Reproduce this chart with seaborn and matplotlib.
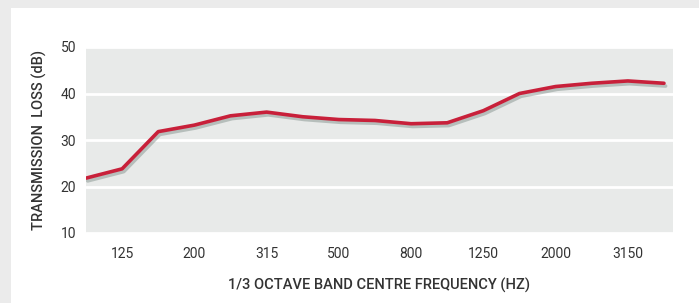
import pandas as pd
import seaborn as sns
import matplotlib.pyplot as plt
import matplotlib.patheffects as pe
from matplotlib.patches import Rectangle

# 1/3 octave band centre frequencies (Hz) and transmission loss (dB)
bands = ["100", "125", "160", "200", "250", "315", "400", "500", "630",
         "800", "1000", "1250", "1600", "2000", "2500", "3150", "4000"]
loss_db = [21.8, 23.8, 31.8, 33.2, 35.2, 36.0, 35.0, 34.4, 34.2,
           33.5, 33.7, 36.3, 40.0, 41.5, 42.2, 42.7, 42.2]
tick_labels = ["125", "200", "315", "500", "800", "1250", "2000", "3150"]
y_ticks = [10, 20, 30, 40, 50]

df = pd.DataFrame({"band": bands, "loss": loss_db})
df["pos"] = range(len(df))

sns.set_style("darkgrid", {
    "axes.facecolor": "#e8eae9",
    "grid.color": "white",
    "axes.edgecolor": "none",
})
plt.rcParams["font.family"] = ["Roboto", "DejaVu Sans"]

fig = plt.figure(figsize=(6.99, 3.03), dpi=100, facecolor="#ebebeb")
# white card on the grey background
fig.patches.append(Rectangle((11 / 699, 0), 1, 1 - 8 / 303,
                             transform=fig.transFigure, facecolor="white",
                             edgecolor="none", zorder=-10))
ax = fig.add_axes([86 / 699, 70 / 303, 587 / 699, 186 / 303])

sns.lineplot(data=df, x="pos", y="loss", color="#c8203a", linewidth=2.6, ax=ax)
ax.lines[0].set_path_effects([
    pe.SimpleLineShadow(offset=(1.2, -2.0), shadow_color="#7a8a85", alpha=0.45),
    pe.Normal(),
])
ax.lines[0].set_solid_capstyle("round")

ax.set_xlim(0, 16.25)
ax.set_ylim(10, 50)
ax.set_yticks(y_ticks)
tick_pos = [bands.index(t) for t in tick_labels]
ax.set_xticks(tick_pos)
ax.set_xticklabels(tick_labels)
ax.grid(axis="x", visible=False)
ax.grid(axis="y", linewidth=2)
ax.tick_params(axis="both", length=0, labelsize=10, labelcolor="#333333")
ax.tick_params(axis="x", pad=10)
ax.tick_params(axis="y", pad=7)

ax.set_xlabel("1/3 OCTAVE BAND CENTRE FREQUENCY (HZ)", fontsize=10.5,
              fontweight="medium", color="#333333", labelpad=12)
ax.set_ylabel("TRANSMISSION  LOSS (dB)", fontsize=10.5,
              fontweight="medium", color="#333333", labelpad=10)

fig.savefig("out.png", dpi=100, facecolor=fig.get_facecolor())
